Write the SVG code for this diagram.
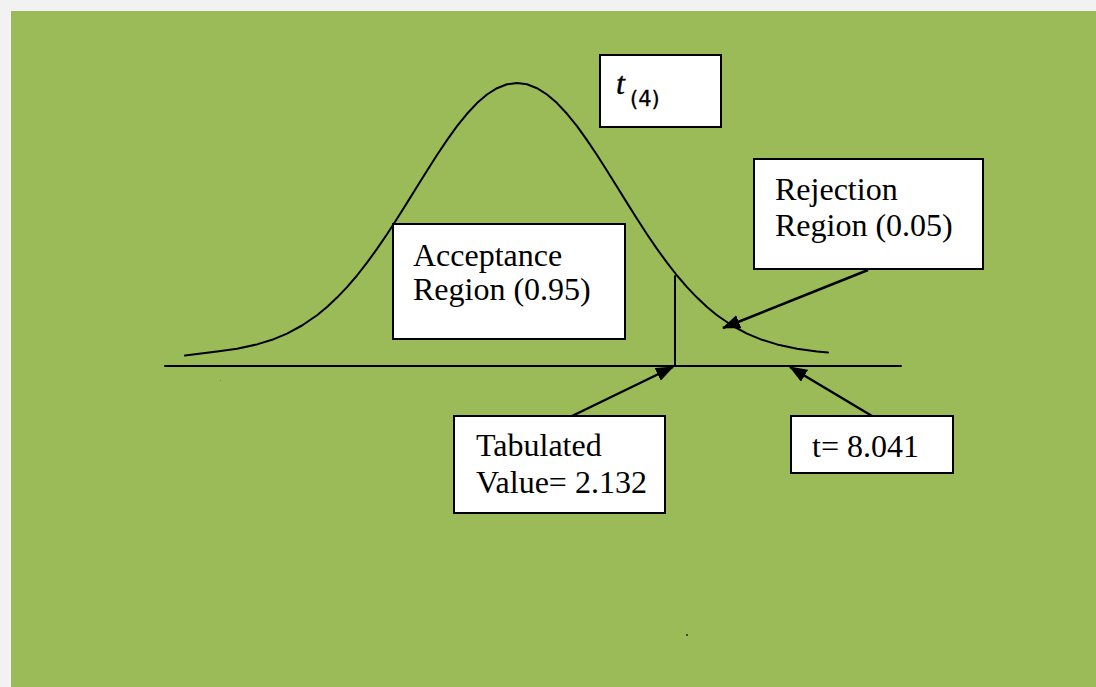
<svg xmlns="http://www.w3.org/2000/svg" width="1096" height="687" viewBox="0 0 1096 687">
  <style>
    .box { fill: #ffffff; stroke: #000000; stroke-width: 2; }
    .lbl { font-family: "Liberation Serif", "Times New Roman", serif; font-size: 32px; fill: #000000; }
    .line { fill: none; stroke: #000000; stroke-width: 2; stroke-linejoin: round; stroke-linecap: round; }
    .conn { stroke: #000000; stroke-width: 2.5; fill: none; }
  </style>
  <defs>
    <marker id="arrow" markerUnits="userSpaceOnUse" markerWidth="18" markerHeight="14" refX="17" refY="7" orient="auto">
      <path d="M0,0 L18,7 L0,14 Z" fill="#000000"/>
    </marker>
  </defs>

  <!-- page and green panel -->
  <rect x="0" y="0" width="1096" height="687" fill="#f2f2f2"/>
  <rect x="11" y="11" width="1085" height="676" fill="#9bbb59"/>

  <!-- t distribution curve, axis and critical value line -->
  <g id="curve">
    <polyline class="line" points="185,355.5 217,351.4 237,348.7 257,344.4 272,339.8 287,333.6 302,325.5 317,315.2 327,307 337,297.6 347,287.1 357,275.5 367,262.7 377,248.9 387,234.2 397,218.8 407,202.9 417,186.8 427,170.7 437,155 447,140.1 457,126.2 467,113.8 477,103.1 487,94.5 497,88.2 507,84.3 517,83 527,84.3 537,88.2 547,94.5 557,103.1 567,113.8 577,126.2 587,140.1 597,155 607,170.7 617,186.8 627,202.9 637,218.8 647,234.2 657,248.9 667,262.7 677,275.5 687,287.1 697,297.6 707,307 717,315.2 732,325.5 747,333.6 762,339.8 777,344.4 797,348.7 817,351.4 828,352.4"/>
    <line class="line" x1="165" y1="366" x2="901" y2="366"/>
    <line class="line" x1="675" y1="276" x2="675" y2="366"/>
  </g>

  <!-- connectors -->
  <g id="connectors">
    <line class="conn" x1="868" y1="270" x2="723" y2="328" marker-end="url(#arrow)"/>
    <line class="conn" x1="572" y1="416" x2="673" y2="367" marker-end="url(#arrow)"/>
    <line class="conn" x1="872" y1="416" x2="790" y2="367" marker-end="url(#arrow)"/>
  </g>

  <g id="dist-label">
    <rect class="box" x="600" y="55" width="121" height="72"/>
    <text x="616" y="94" font-family="'Liberation Serif', serif" font-style="italic" font-size="32" stroke="#000" stroke-width="0.4" fill="#000">t</text>
    <text x="630" y="106" font-family="'DejaVu Sans', 'Liberation Sans', sans-serif" font-size="21" stroke="#000" stroke-width="0.3" fill="#000">(4)</text>
  </g>

  <g id="acceptance">
    <rect class="box" x="393" y="224" width="232" height="115"/>
    <text class="lbl" x="413" y="266">Acceptance</text>
    <text class="lbl" x="413" y="300">Region (0.95)</text>
  </g>

  <g id="rejection">
    <rect class="box" x="754" y="159" width="229" height="110"/>
    <text class="lbl" x="775" y="200">Rejection</text>
    <text class="lbl" x="775" y="236">Region (0.05)</text>
  </g>

  <g id="tabulated">
    <rect class="box" x="454" y="416" width="211" height="97"/>
    <text class="lbl" x="476" y="456">Tabulated</text>
    <text class="lbl" x="476" y="493">Value= 2.132</text>
  </g>

  <g id="t-value">
    <rect class="box" x="791" y="416" width="162" height="57"/>
    <text class="lbl" x="812" y="457">t= 8.041</text>
  </g>

  <!-- stray specks -->
  <rect x="220" y="380" width="1" height="1" fill="#6f8a40"/>
  <rect x="686" y="634" width="2" height="2" fill="#3a4a20"/>
</svg>
